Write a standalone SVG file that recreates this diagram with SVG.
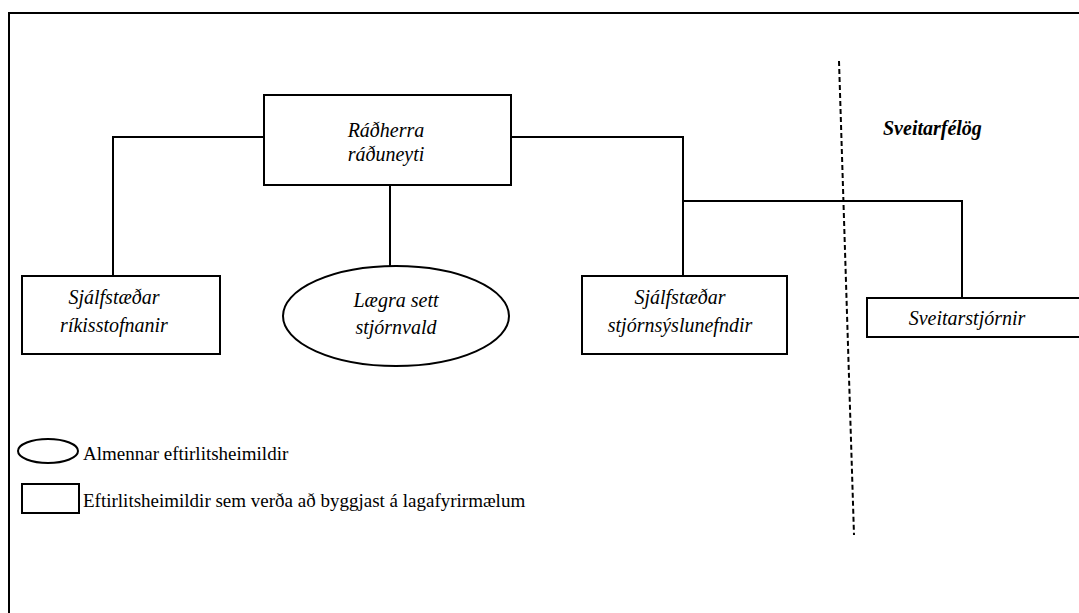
<svg xmlns="http://www.w3.org/2000/svg" width="1079" height="613" viewBox="0 0 1079 613">
<rect x="9" y="13" width="1080" height="610" fill="#fff" stroke="#000" stroke-width="2"/>
<g id="connectors" fill="none" stroke="#000" stroke-width="2">
<path d="M264 137 H113 V276"/>
<path d="M511 137 H683 V276"/>
<path d="M390 185 V266"/>
<path d="M683 201 H962 V298"/>
<path d="M839 61 L854 535" stroke-dasharray="5 3"/>
</g>
<g id="radherra">
<rect x="264" y="95" width="247" height="90" fill="#fff" stroke="#000" stroke-width="2"/>
<text x="386" y="137" style="font-family:'Times New Roman','Liberation Serif',serif;font-size:20px;font-style:italic" text-anchor="middle">Ráðherra</text>
<text x="386" y="161" style="font-family:'Times New Roman','Liberation Serif',serif;font-size:20px;font-style:italic" text-anchor="middle">ráðuneyti</text>
</g>
<g id="rikisstofnanir">
<rect x="22" y="276" width="198" height="78" fill="#fff" stroke="#000" stroke-width="2"/>
<text x="114" y="304" style="font-family:'Times New Roman','Liberation Serif',serif;font-size:20px;font-style:italic" text-anchor="middle">Sjálfstæðar</text>
<text x="114" y="332" style="font-family:'Times New Roman','Liberation Serif',serif;font-size:20px;font-style:italic" text-anchor="middle">ríkisstofnanir</text>
</g>
<g id="laegra">
<ellipse cx="396" cy="316" rx="113" ry="50" fill="#fff" stroke="#000" stroke-width="2"/>
<text x="396" y="307" style="font-family:'Times New Roman','Liberation Serif',serif;font-size:20px;font-style:italic" text-anchor="middle">Lægra sett</text>
<text x="396" y="334" style="font-family:'Times New Roman','Liberation Serif',serif;font-size:20px;font-style:italic" text-anchor="middle">stjórnvald</text>
</g>
<g id="stjornsyslunefndir">
<rect x="582" y="276" width="205" height="78" fill="#fff" stroke="#000" stroke-width="2"/>
<text x="680" y="304" style="font-family:'Times New Roman','Liberation Serif',serif;font-size:20px;font-style:italic" text-anchor="middle">Sjálfstæðar</text>
<text x="680" y="332" style="font-family:'Times New Roman','Liberation Serif',serif;font-size:20px;font-style:italic" text-anchor="middle">stjórnsýslunefndir</text>
</g>
<g id="sveitarstjornir">
<rect x="867" y="298" width="220" height="39" fill="#fff" stroke="#000" stroke-width="2"/>
<text x="967" y="325" style="font-family:'Times New Roman','Liberation Serif',serif;font-size:20px;font-style:italic" text-anchor="middle">Sveitarstjórnir</text>
</g>
<g id="sveitarfelog">
<text x="883" y="135" style="font-family:'Times New Roman','Liberation Serif',serif;font-size:20px;font-style:italic;font-weight:bold">Sveitarfélög</text>
</g>
<g id="legend">
<ellipse cx="48" cy="451" rx="30" ry="12" fill="#fff" stroke="#000" stroke-width="2"/>
<text x="83" y="460" style="font-family:'Times New Roman','Liberation Serif',serif;font-size:19px">Almennar eftirlitsheimildir</text>
<rect x="22" y="484" width="57" height="29" fill="#fff" stroke="#000" stroke-width="2"/>
<text x="83" y="507" style="font-family:'Times New Roman','Liberation Serif',serif;font-size:19px">Eftirlitsheimildir sem verða að byggjast á lagafyrirmælum</text>
</g>
</svg>
